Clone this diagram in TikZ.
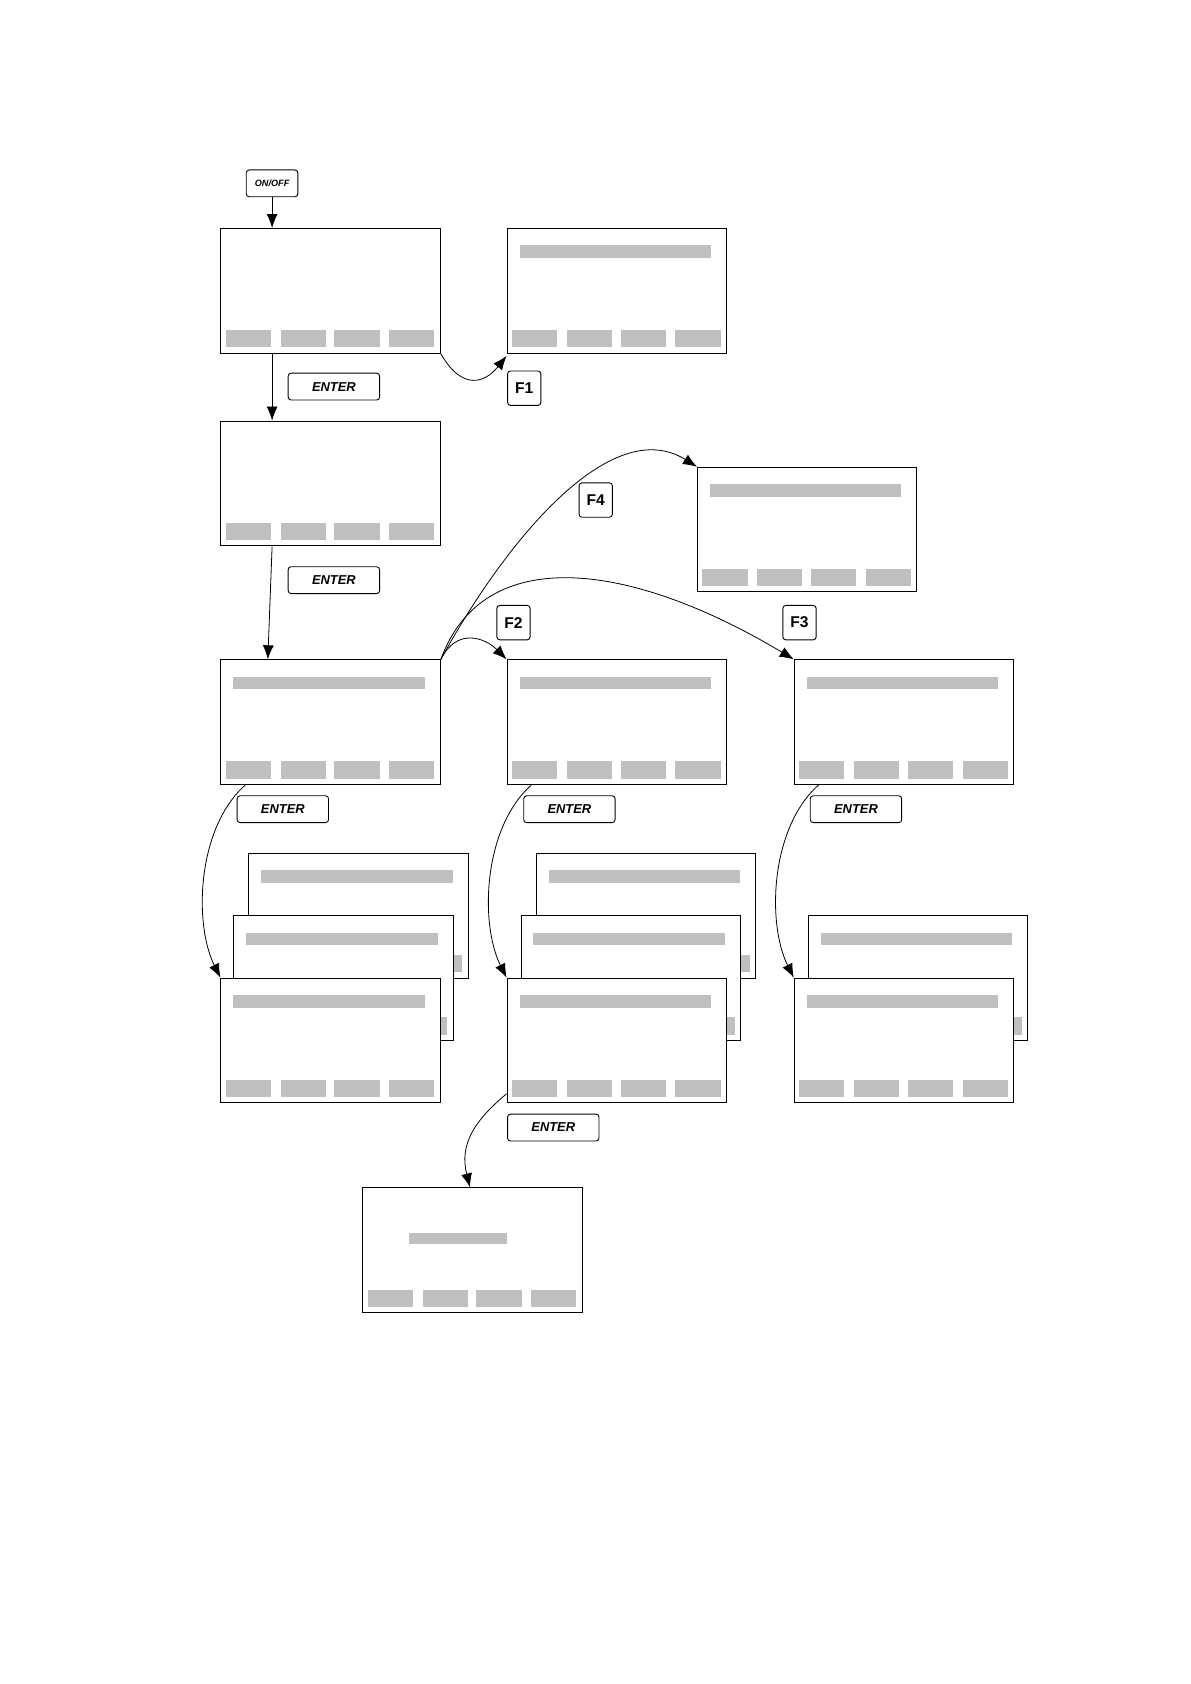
\documentclass[tikz,border=0pt]{standalone}
\usepackage{fontspec}
\setmainfont{Liberation Sans}
\usetikzlibrary{arrows.meta, calc, positioning}
\tikzset{screen/.style={rectangle, draw=black, fill=white, line width=0.9pt,
	minimum width=204pt, minimum height=116pt, inner sep=0pt, anchor=north west},
	bar/.style={fill=black!25},
	key/.style={rectangle, draw=black, rounded corners=3pt, line width=0.9pt,
	font=\fontsize{12}{12}\selectfont\bfseries\itshape},
	fkey/.style={rectangle, draw=black, rounded corners=3pt, line width=0.9pt,
	minimum width=31pt, minimum height=32pt, font=\fontsize{14.5}{14.5}\selectfont\bfseries},
	arrow/.style={-{Latex[length=14pt,width=11pt]}, line width=0.8pt}}
% screen with soft keys
\newcommand{\scrn}[3]{%
	\node[screen] (#1) at (#2,#3) {};
	\foreach \k in {5,56,106,157}
		\fill[bar] ($(#1.north west)+(\k,95)$) rectangle +(42,16);}
% title bar
\newcommand{\ttl}[1]{\fill[bar] ($(#1.north west)+(12,16)$) rectangle +(178,12);}

\begin{document}
\begin{tikzpicture}[x=1pt, y=-1pt, scale=1.075, every node/.append style={transform shape}]
	\useasboundingbox (0,0) rectangle (1107,1566);

	% screens
	\scrn{start}{205}{212}
	\scrn{info}{471}{212} \ttl{info}
	\scrn{wait}{205}{391}
	\scrn{setup}{648}{434} \ttl{setup}
	\scrn{main}{205}{613} \ttl{main}
	\scrn{mid}{471}{613} \ttl{mid}
	\scrn{right}{738}{613} \ttl{right}

	% stacked screens
	\scrn{lc}{231}{793} \ttl{lc}
	\scrn{lb}{217}{851} \ttl{lb}
	\scrn{la}{205}{909} \ttl{la}
	\scrn{mc}{498}{793} \ttl{mc}
	\scrn{mb}{484}{851} \ttl{mb}
	\scrn{ma}{471}{909} \ttl{ma}
	\scrn{rb}{751}{851} \ttl{rb}
	\scrn{ra}{738}{909} \ttl{ra}

	% result screen
	\scrn{result}{337}{1104}
	\fill[bar] ($(result.north west)+(43,42)$) rectangle +(91,11);

	% keys
	\node (onoff) [key, minimum width=48pt, minimum height=25pt,
		font=\fontsize{8.5}{8.5}\selectfont\bfseries\itshape] at (253,170.5) {ON/OFF};
	\node (enter1) [key, minimum width=85pt, minimum height=25pt] at (310.5,359.5) {ENTER};
	\node (enter2) [key, minimum width=85pt, minimum height=25pt] at (310.5,539.5) {ENTER};
	\node (enter3) [key, minimum width=85pt, minimum height=25pt] at (263,752.5) {ENTER};
	\node (enter4) [key, minimum width=85pt, minimum height=25pt] at (529.5,752.5) {ENTER};
	\node (enter5) [key, minimum width=85pt, minimum height=25pt] at (796,752.5) {ENTER};
	\node (enter6) [key, minimum width=85pt, minimum height=25pt] at (514.5,1048.5) {ENTER};
	\node (f1) [fkey] at (487.5,361) {F1};
	\node (f4) [fkey] at (554,465) {F4};
	\node (f2) [fkey] at (477.5,579) {F2};
	\node (f3) [fkey] at (743.5,579) {F3};

	% connectors
	\draw [arrow] (onoff.south) -- (onoff.south |- start.north);
	\draw [arrow] ($(start.south west)+(48,0)$) -- ($(wait.north west)+(48,0)$);
	\draw [arrow] ($(wait.south west)+(48,0)$) -- ($(main.north west)+(44,0)$);
	\draw [arrow] (start.south east) .. controls +(20,35) and +(-20,25) .. ($(info.south west)+(0,2)$);
	\draw [arrow] (main.north east) .. controls +(60,-110) and +(-80,-50) .. (setup.north west);
	\draw [arrow] (main.north east) .. controls +(40,-110) and +(-150,-90) .. (right.north west);
	\draw [arrow] (main.north east) .. controls +(15,-30) and +(-20,-20) .. (mid.north west);
	\draw [arrow] ($(main.south west)+(23,0)$) .. controls +(-45,40) and +(-25,-50) .. (la.north west);
	\draw [arrow] ($(mid.south west)+(23,0)$) .. controls +(-45,40) and +(-25,-50) .. (ma.north west);
	\draw [arrow] ($(right.south west)+(23,0)$) .. controls +(-45,40) and +(-25,-50) .. (ra.north west);
	\draw [arrow] ($(ma.south west)+(0,-9)$) .. controls +(-30,25) and +(-10,-40) .. ($(result.north west)+(100,0)$);

\end{tikzpicture}
\end{document}
